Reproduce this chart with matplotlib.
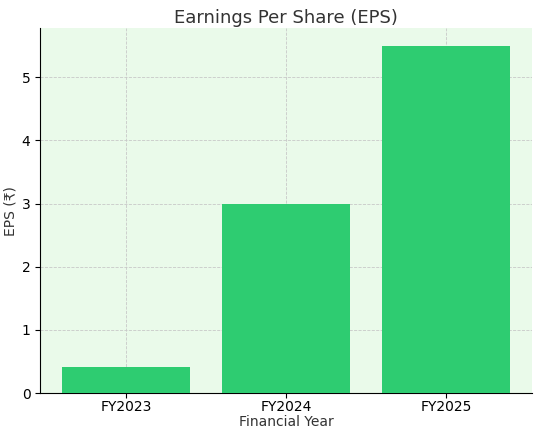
import matplotlib.pyplot as plt

years = ["FY2023", "FY2024", "FY2025"]
eps = [0.42, 3.0, 5.5]

fig = plt.figure(figsize=(5.42, 4.32), dpi=100)
ax = fig.add_axes([0.074, 0.09, 0.908, 0.845])
ax.set_facecolor("#eafaea")
ax.bar(years, eps, color="#2ecc71", width=0.8, zorder=3)
ax.grid(True, linestyle="--", color="#c8c8c8", linewidth=0.6, zorder=0)
ax.set_xlim(-0.54, 2.54)
ax.set_ylim(0, 5.78)
ax.spines["top"].set_visible(False)
ax.spines["right"].set_visible(False)
ax.set_title("Earnings Per Share (EPS)", fontsize=13, color="#333333", pad=4)
ax.set_xlabel("Financial Year", fontsize=10, color="#333333", labelpad=1)
ax.set_ylabel("EPS (₹)", fontsize=10, color="#333333", labelpad=3)
ax.tick_params(labelsize=10)
ax.tick_params(axis="x", pad=1.5)

fig.savefig("out.png", dpi=100)
